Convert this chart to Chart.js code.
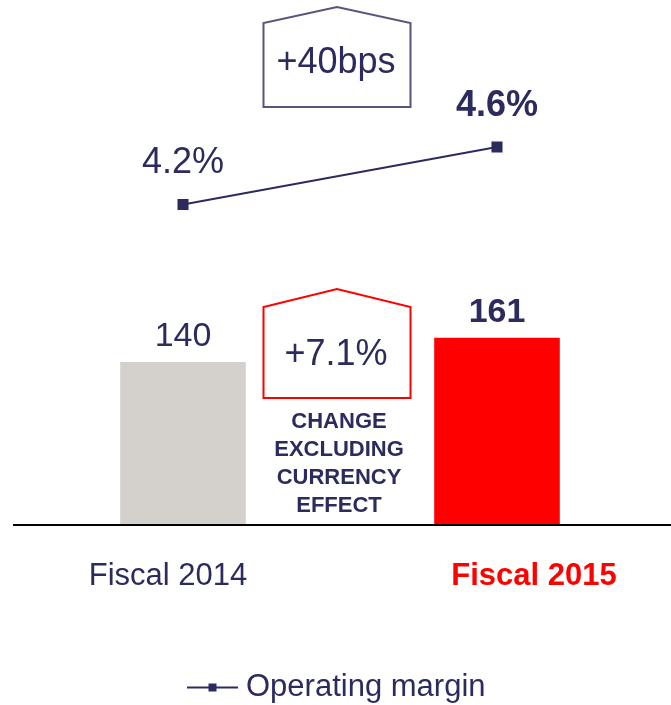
<!DOCTYPE html>
<html>
<head>
<meta charset="utf-8">
<script src="https://cdn.jsdelivr.net/npm/chart.js@4"></script>
<style>
  html, body { margin: 0; padding: 0; background: #fff; }
  #wrap { width: 671px; height: 705px; }
</style>
</head>
<body>
<div id="wrap"><canvas id="marginChart"></canvas></div>
<script>
// data
var categories = ['Fiscal 2014', 'Fiscal 2015'];
var salesValues = [140, 161];
var marginValues = [4.2, 4.6];
var marginLabels = ['4.2%', '4.6%'];
var barColors = ['#d4d1cc', '#ff0000'];
var highlight = [false, true];
var marginChange = '+40bps';
var salesChange = '+7.1%';
var salesChangeNote = ['CHANGE', 'EXCLUDING', 'CURRENCY', 'EFFECT'];

var navy = '#2c2b5e';
var family = '"Liberation Sans", Arial, sans-serif';
Chart.defaults.font.family = family;

// legend icon: line with square marker
var icon = document.createElement('canvas');
icon.width = 51; icon.height = 10;
var ic = icon.getContext('2d');
ic.strokeStyle = navy; ic.lineWidth = 2;
ic.beginPath(); ic.moveTo(0, 5); ic.lineTo(51, 5); ic.stroke();
ic.fillStyle = navy; ic.fillRect(21.5, 1, 8, 8);

function house(ctx, cx, w, peak, shoulder, bottom, color) {
    var l = cx - w / 2, r = cx + w / 2;
    ctx.beginPath();
    ctx.moveTo(l, bottom);
    ctx.lineTo(l, shoulder);
    ctx.lineTo(cx, peak);
    ctx.lineTo(r, shoulder);
    ctx.lineTo(r, bottom);
    ctx.closePath();
    ctx.strokeStyle = color;
    ctx.lineWidth = 2;
    ctx.stroke();
}

var annotations = {
    id: 'annotations',
    afterDraw: function (chart) {
        var ctx = chart.ctx;
        var xs = chart.scales.x, ys = chart.scales.y;
        ctx.save();

        // base line
        var y0 = ys.getPixelForValue(0);
        ctx.strokeStyle = '#000';
        ctx.lineWidth = 2;
        ctx.beginPath(); ctx.moveTo(13, y0 + 1); ctx.lineTo(671, y0 + 1); ctx.stroke();

        ctx.textAlign = 'center';
        ctx.textBaseline = 'middle';

        // bar values
        chart.getDatasetMeta(0).data.forEach(function (el, i) {
            ctx.fillStyle = navy;
            ctx.font = (highlight[i] ? 'bold ' : '') + '34px ' + family;
            ctx.fillText(String(salesValues[i]), el.x, el.y - 25);
        });

        // margin values
        chart.getDatasetMeta(1).data.forEach(function (el, i) {
            ctx.fillStyle = navy;
            ctx.font = (highlight[i] ? 'bold ' : '') + '36px ' + family;
            ctx.fillText(marginLabels[i], el.x, el.y - 41);
        });

        // category labels
        var offsets = [-15, 37];
        categories.forEach(function (c, i) {
            ctx.fillStyle = highlight[i] ? '#ff0000' : navy;
            ctx.font = (highlight[i] ? 'bold ' : '') + '31px ' + family;
            ctx.fillText(c, xs.getPixelForValue(i) + offsets[i], 576);
        });

        // change boxes
        var mid = (xs.getPixelForValue(0) + xs.getPixelForValue(1)) / 2 - 3;
        house(ctx, mid, 147, 7, 23, 107, '#55557f');
        house(ctx, mid, 147, 289, 307, 398, '#ff0000');
        ctx.fillStyle = navy;
        ctx.font = '36px ' + family;
        ctx.fillText(marginChange, mid - 1, 63);
        ctx.fillText(salesChange, mid - 1, 355);
        ctx.font = 'bold 22px ' + family;
        salesChangeNote.forEach(function (t, i) {
            ctx.fillText(t, mid + 2, 422 + i * 28);
        });
        ctx.restore();
    }
};

var chart = new Chart(document.getElementById('marginChart').getContext('2d'), {
    type: 'bar',
    data: {
        labels: categories,
        datasets: [{
            label: 'Sales',
            data: salesValues,
            backgroundColor: barColors,
            borderWidth: 0,
            barPercentage: 0.8,
            categoryPercentage: 0.5,
            yAxisID: 'y',
            order: 2
        }, {
            type: 'line',
            label: 'Operating margin',
            data: marginValues,
            borderColor: navy,
            backgroundColor: navy,
            borderWidth: 2,
            pointStyle: 'rect',
            pointRadius: 6.4,
            pointHoverRadius: 6.4,
            yAxisID: 'y1',
            order: 1
        }]
    },
    options: {
        responsive: true,
        maintainAspectRatio: false,
        animation: false,
        layout: { autoPadding: false, padding: { left: 26, right: 17, top: 0, bottom: -8 } },
        scales: {
            x: { display: false },
            y: { display: false, min: -128, max: 453 },
            y1: { display: false, position: 'right', min: 0.948, max: 5.623 }
        },
        plugins: {
            tooltip: { enabled: false },
            legend: {
                position: 'bottom',
                labels: {
                    usePointStyle: true,
                    pointStyleWidth: 36,
                    padding: 0,
                    color: navy,
                    font: { size: 31 },
                    generateLabels: function (chart) {
                        return [{
                            text: 'Operating margin',
                            pointStyle: icon,
                            fillStyle: navy,
                            strokeStyle: navy,
                            fontColor: navy,
                            lineWidth: 0,
                            datasetIndex: 1
                        }];
                    }
                }
            }
        }
    },
    plugins: [annotations]
});
</script>
</body>
</html>
